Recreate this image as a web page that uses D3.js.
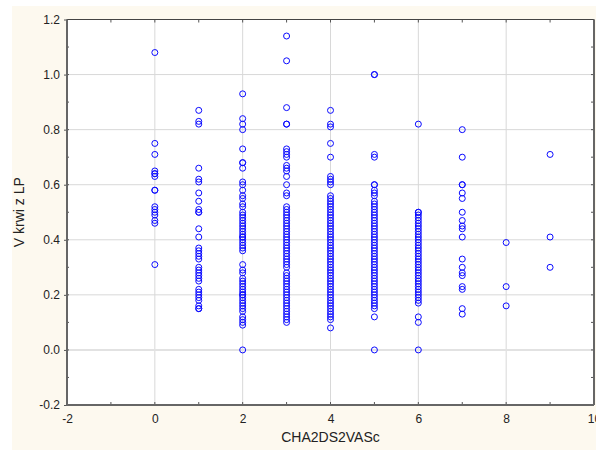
<!DOCTYPE html>
<html>
<head>
<meta charset="utf-8">
<script src="https://cdn.jsdelivr.net/npm/d3@7"></script>
<style>
  body { margin: 0; background: #fff; }
  svg { display: block; }
  text { font-family: "Liberation Sans", Arial, sans-serif; fill: #222; }
</style>
</head>
<body>
<svg width="596" height="450"></svg>
<script>
// CHA2DS2VASc score on x, V krwi z LP on y
const scores = [0, 1, 2, 3, 4, 5, 6, 7, 8, 9];

const vScore0 = [1.08, 0.75, 0.71, 0.65, 0.64, 0.64, 0.63, 0.58, 0.58, 0.52, 0.51, 0.50, 0.49, 0.47, 0.46, 0.31];
const vScore1 = [0.87, 0.83, 0.82, 0.66, 0.62, 0.61, 0.57, 0.54, 0.51, 0.50, 0.50, 0.44, 0.41, 0.37, 0.36, 0.35,
  0.34, 0.33, 0.30, 0.29, 0.28, 0.27, 0.26, 0.25, 0.22, 0.21, 0.20, 0.19, 0.18, 0.16, 0.15, 0.15];
const vScore2 = [0.93, 0.84, 0.82, 0.80, 0.73, 0.68, 0.68, 0.66, 0.61, 0.60, 0.58, 0.56, 0.55, 0.53, 0.52, 0.50,
  0.49, 0.48, 0.47, 0.46, 0.45, 0.44, 0.43, 0.42, 0.41, 0.41, 0.40, 0.39, 0.38, 0.37, 0.36, 0.31, 0.29, 0.28,
  0.26, 0.25, 0.24, 0.23, 0.22, 0.21, 0.20, 0.20, 0.19, 0.18, 0.17, 0.16, 0.15, 0.14, 0.12, 0.11, 0.10, 0.09, 0.00];
const vScore3 = [1.14, 1.05, 0.88, 0.82, 0.82, 0.73, 0.72, 0.71, 0.70, 0.67, 0.66, 0.65, 0.63, 0.60, 0.57, 0.56,
  0.52, 0.51, 0.50, 0.49, 0.48, 0.47, 0.46, 0.45, 0.44, 0.43, 0.42, 0.41, 0.40, 0.39, 0.38, 0.37, 0.36, 0.35,
  0.34, 0.33, 0.32, 0.31, 0.30, 0.28, 0.27, 0.26, 0.25, 0.24, 0.23, 0.22, 0.21, 0.20, 0.19, 0.18, 0.17, 0.16,
  0.15, 0.14, 0.13, 0.12, 0.11, 0.10];
const vScore4 = [0.87, 0.82, 0.81, 0.75, 0.70, 0.63, 0.62, 0.61, 0.60, 0.56, 0.55, 0.54, 0.53, 0.52, 0.51, 0.50,
  0.49, 0.48, 0.47, 0.46, 0.45, 0.44, 0.43, 0.42, 0.41, 0.40, 0.39, 0.38, 0.37, 0.36, 0.35, 0.34, 0.33, 0.32,
  0.31, 0.30, 0.29, 0.28, 0.27, 0.26, 0.25, 0.24, 0.23, 0.22, 0.21, 0.20, 0.19, 0.18, 0.17, 0.16, 0.15, 0.14,
  0.13, 0.12, 0.11, 0.08];
const vScore5 = [1.00, 1.00, 0.71, 0.70, 0.60, 0.60, 0.58, 0.57, 0.56, 0.54, 0.53, 0.52, 0.51, 0.50, 0.49, 0.48,
  0.47, 0.46, 0.45, 0.44, 0.43, 0.42, 0.41, 0.40, 0.39, 0.38, 0.37, 0.36, 0.35, 0.34, 0.33, 0.32, 0.31, 0.30,
  0.29, 0.28, 0.27, 0.26, 0.25, 0.24, 0.23, 0.22, 0.21, 0.20, 0.19, 0.18, 0.17, 0.16, 0.15, 0.12, 0.00];
const vScore6 = [0.82, 0.50, 0.50, 0.49, 0.48, 0.47, 0.46, 0.45, 0.44, 0.43, 0.42, 0.41, 0.40, 0.39, 0.38, 0.37,
  0.36, 0.35, 0.34, 0.33, 0.32, 0.31, 0.30, 0.29, 0.28, 0.27, 0.26, 0.25, 0.24, 0.23, 0.22, 0.21, 0.20, 0.19,
  0.18, 0.17, 0.12, 0.10, 0.00];
const vScore7 = [0.80, 0.70, 0.60, 0.60, 0.57, 0.55, 0.50, 0.47, 0.45, 0.44, 0.41, 0.33, 0.30, 0.28, 0.27, 0.23,
  0.22, 0.15, 0.13];
const vScore8 = [0.39, 0.23, 0.16];
const vScore9 = [0.71, 0.41, 0.30];

const xTicks = [-2, 0, 2, 4, 6, 8, 10];
const yTicks = [-0.2, 0.0, 0.2, 0.4, 0.6, 0.8, 1.0, 1.2];

const svg = d3.select('svg');
const width = +svg.attr('width');
const height = +svg.attr('height');

const pLeft = 67, pRight = 594, pTop = 19.5, pBottom = 405;

const x = d3.scaleLinear().domain([-2, 10]).range([pLeft, pRight]);
const y = d3.scaleLinear().domain([-0.2, 1.2]).range([pBottom, pTop]);

// cream frame background
svg.append('rect')
  .attr('x', 12).attr('y', 6)
  .attr('width', width - 12).attr('height', height - 6)
  .attr('fill', '#fdf9ef');

svg.append('rect')
  .attr('x', pLeft).attr('y', pTop)
  .attr('width', pRight - pLeft).attr('height', pBottom - pTop)
  .attr('fill', '#fff');

// grid
const grid = svg.append('g');
grid.selectAll('.gx')
  .data(xTicks.filter(d => d > -2 && d < 10))
  .join('line')
    .attr('x1', d => x(d)).attr('x2', d => x(d))
    .attr('y1', pTop).attr('y2', pBottom)
    .attr('stroke', '#d8d8d8');
grid.selectAll('.gy')
  .data(yTicks.filter(d => d > -0.2 && d < 1.2))
  .join('line')
    .attr('x1', pLeft).attr('x2', pRight)
    .attr('y1', d => y(d)).attr('y2', d => y(d))
    .attr('stroke', d => d === 0 ? '#e2e2e2' : '#d8d8d8')
    .attr('stroke-width', d => d === 0 ? 2 : 1);

// axes (plain hyphen for negatives, like the original)
const tickFmt = d => d3.format('.1f')(d).replace('\u2212', '-');
const xFmt = d => String(d);
svg.append('g')
  .attr('transform', `translate(${pLeft},0)`)
  .call(d3.axisLeft(y).tickValues(yTicks).tickFormat(tickFmt).tickSize(3).tickPadding(4))
  .call(g => g.select('.domain').remove());
svg.append('g')
  .attr('transform', `translate(0,${pBottom})`)
  .call(d3.axisBottom(x).tickValues(xTicks).tickFormat(xFmt).tickSize(0).tickPadding(9))
  .call(g => g.select('.domain').remove());
svg.selectAll('.tick text').attr('font-size', 12).attr('fill', '#222')
  .attr('font-family', '"Liberation Sans", Arial, sans-serif');
svg.selectAll('.tick line').attr('stroke', '#555');

// minor / inner ticks on frame
const xMinor = d3.range(-2, 10.01, 1);
const yMinor = d3.range(-0.2, 1.21, 0.1);
const frameTicks = svg.append('g').attr('stroke', '#555');
frameTicks.selectAll('.tt').data(xMinor).join('line')
  .attr('x1', d => x(d)).attr('x2', d => x(d))
  .attr('y1', pTop).attr('y2', pTop + 3);
frameTicks.selectAll('.tb').data(xMinor).join('line')
  .attr('x1', d => x(d)).attr('x2', d => x(d))
  .attr('y1', pBottom).attr('y2', pBottom - 3);
frameTicks.selectAll('.tr').data(yMinor).join('line')
  .attr('x1', pRight).attr('x2', pRight - 3)
  .attr('y1', d => y(d)).attr('y2', d => y(d));
frameTicks.selectAll('.tl').data(yMinor).join('line')
  .attr('x1', pLeft).attr('x2', pLeft + 2)
  .attr('y1', d => y(d)).attr('y2', d => y(d));

// frame lines
svg.append('line').attr('x1', pLeft).attr('x2', pRight).attr('y1', pTop).attr('y2', pTop)
  .attr('stroke', '#444').attr('stroke-width', 1);
svg.append('line').attr('x1', pRight).attr('x2', pRight).attr('y1', pTop).attr('y2', pBottom)
  .attr('stroke', '#666').attr('stroke-width', 2);
svg.append('line').attr('x1', pLeft).attr('x2', pLeft).attr('y1', pTop).attr('y2', pBottom + 1)
  .attr('stroke', '#666').attr('stroke-width', 2);
svg.append('line').attr('x1', pLeft).attr('x2', pRight).attr('y1', pBottom).attr('y2', pBottom)
  .attr('stroke', '#666').attr('stroke-width', 2);

// points
const columns = [vScore0, vScore1, vScore2, vScore3, vScore4, vScore5, vScore6, vScore7, vScore8, vScore9];
const points = columns.flatMap((vals, i) => vals.map(v => ({ s: scores[i], v })));

svg.append('g')
  .selectAll('circle')
  .data(points)
  .join('circle')
    .attr('cx', d => x(d.s))
    .attr('cy', d => y(d.v))
    .attr('r', 3)
    .attr('fill', 'none')
    .attr('stroke', '#0a0aff')
    .attr('stroke-width', 1);

// axis titles
svg.append('text')
  .attr('x', (pLeft + pRight) / 2)
  .attr('y', 442)
  .attr('text-anchor', 'middle')
  .attr('font-size', 14)
  .text('CHA2DS2VASc');

svg.append('text')
  .attr('transform', `translate(24,${(pTop + pBottom) / 2}) rotate(-90)`)
  .attr('text-anchor', 'middle')
  .attr('font-size', 14)
  .text('V krwi z LP');
</script>
</body>
</html>
